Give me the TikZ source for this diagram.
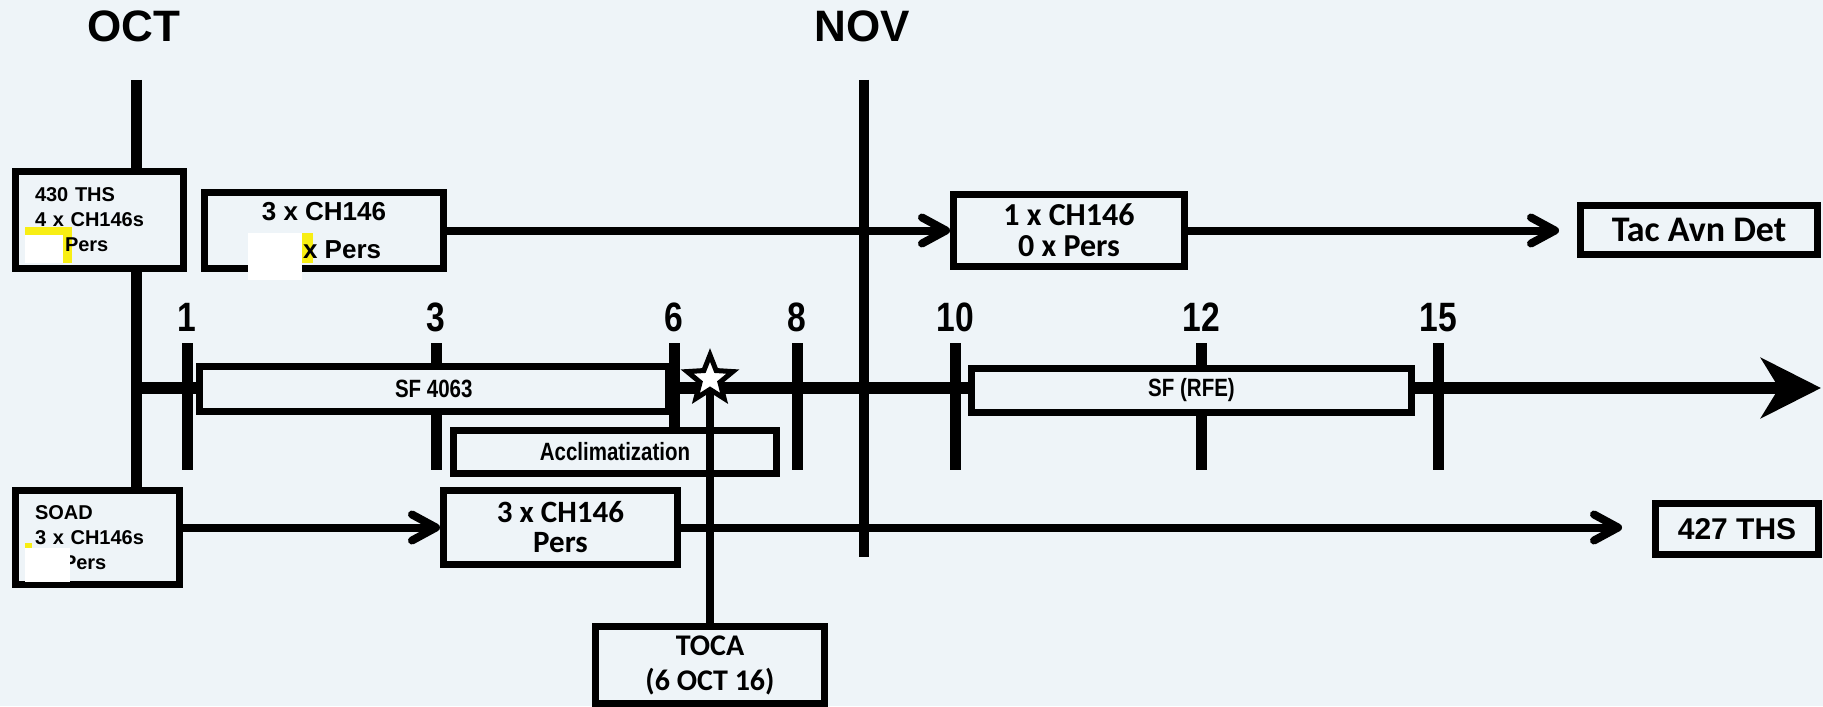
\documentclass[tikz,border=0pt]{standalone}
\usepackage{fontspec}
\setmainfont{Liberation Sans}
\newfontfamily\calib{Carlito}
\newfontfamily\narrowf{Liberation Sans}[FakeStretch=0.82]
\usetikzlibrary{arrows.meta,shapes.geometric}
\definecolor{bg}{RGB}{238,244,248}
\definecolor{hl}{RGB}{248,238,20}
\begin{document}
\begin{tikzpicture}[x=0.5pt,y=-0.5pt,
  box/.style={draw=black,line width=3.5pt,fill=bg,inner sep=0pt,rectangle},
  openbox/.style={draw=black,line width=3.5pt,inner sep=0pt,rectangle},
  arr/.style={line width=4pt,-{Straight Barb[length=12pt,width=13pt,round]}},
  tickl/.style={line width=5.5pt},
  num/.style={font=\narrowf\bfseries\fontsize{20.5}{24}\selectfont,anchor=base,inner sep=0pt},
  month/.style={font=\bfseries\fontsize{22}{24}\selectfont,anchor=base,inner sep=0pt},
  smalltxt/.style={font=\bfseries\fontsize{10}{12.5}\selectfont},
  narrowtxt/.style={font=\narrowf\bfseries\fontsize{12.5}{14}\selectfont}]
\useasboundingbox (0,0) rectangle (1823,706);
\clip (0,0) rectangle (1823,706);
\fill[bg] (0,0) rectangle (1823,706);

% month labels
\node[month] (oct) at (133.5,42) {OCT};
\node[month] (nov) at (862,42) {NOV};
\coordinate (octtop) at (136,80);
\coordinate (novtop) at (864,80);
\coordinate (novbot) at (864,557);

% box nodes (positions)
\path (99.5,220) node[openbox,minimum width=84pt,minimum height=48.5pt] (b430) {};
\path (97.5,537.5) node[openbox,minimum width=82pt,minimum height=47pt] (soad) {};

% vertical month lines
\draw[line width=5.5pt] (octtop) -- (octtop |- b430.north);
\draw[line width=5.5pt] (b430.south -| octtop) -- (soad.north -| octtop);
\draw[line width=5pt] (novtop) -- (novbot);

% time axis
\coordinate (axs) at (136,388);
\coordinate (axe) at (1821,388);
\draw[line width=5.8pt,-{Stealth[length=30pt,width=30pt,inset=9pt]}] (axs) -- (axe);
\foreach \x/\lab/\bot in {187/1/470,436/3/470,674/6/427,797/8/470,955/10/470,1201/12/470,1438/15/470}{
  \draw[tickl] (\x,343) -- (\x,\bot);
  \node[num] (n\lab) at (\x,331) {\lab};
}

% highlight marks (under text)
\fill[hl] (25,227) rectangle (72,263);
\fill[white] (25,235) rectangle (63,263);
\fill[hl] (302,233) rectangle (313,263);
\fill[hl] (25,543) rectangle (32,557);

% boxes with text
\node[openbox,minimum width=84pt,minimum height=48.5pt,text width=64.5pt,align=left,smalltxt] (t430) at (b430.center)
  {430 THS\\4 x CH146s\\\hspace*{15pt}Pers};
\node[openbox,minimum width=82pt,minimum height=47pt,text width=62.5pt,align=left,smalltxt] (tsoad) at (soad.center)
  {SOAD\\3 x CH146s\\\hspace*{14pt}Pers};
\node[openbox,minimum width=119.5pt,minimum height=38pt,align=center,font=\bfseries\fontsize{13}{19}\selectfont] (top3) at (324,230.5)
  {3 x CH146\\\phantom{00 }x Pers};
\node[box,minimum width=115.5pt,minimum height=36pt,align=center,font=\calib\bfseries\fontsize{16}{15.5}\selectfont] (one) at (1069,230.5)
  {1 x CH146\\0 x Pers};
\node[box,minimum width=118.5pt,minimum height=24.5pt,font=\calib\bfseries\fontsize{18}{20}\selectfont] (tac) at (1699,230)
  {Tac Avn Det};
\node[box,minimum width=234.25pt,minimum height=22.5pt,narrowtxt] (sf4063) at (433.75,389) {SF 4063};
\node[box,minimum width=161.5pt,minimum height=21.5pt,narrowtxt] (accl) at (615,452) {Acclimatization};
\node[box,minimum width=220pt,minimum height=22pt,narrowtxt] (sfrfe) at (1191.5,390) {SF (RFE)};
\node[box,minimum width=117pt,minimum height=37pt,align=center,font=\calib\bfseries\fontsize{15.5}{15}\selectfont] (low3) at (560.5,527.5)
  {3 x CH146\\Pers};
\node[box,minimum width=81.5pt,minimum height=25.5pt,font=\bfseries\fontsize{15}{18}\selectfont] (b427) at (1737,529) {427 THS};
\node[box,minimum width=114.5pt,minimum height=38.5pt,align=center,font=\calib\bfseries\fontsize{15}{17.5}\selectfont] (toca) at (710,665)
  {TOCA\\(6 OCT 16)};

% redactions drawn over text and borders
\fill[white] (248,233) rectangle (302,280);
\fill[white] (25,548) rectangle (70,582);

% connectors
\draw[arr] (top3.east) -- (one.west);
\draw[arr,shorten >=9pt] (one.east) -- (tac.west |- one.east);
\draw[arr] (soad.east |- low3.west) -- (low3.west);
\draw[arr,shorten >=15pt] (low3.east) -- (b427.west |- low3.east);

% TOCA star
\coordinate (starc) at (710,379);
\draw[line width=4pt] (starc) -- (toca.north);
\node[star,star points=5,star point ratio=2.3,minimum size=24pt,inner sep=0pt,draw,fill=white,line width=2.5pt] (tocastar) at (starc) {};
\end{tikzpicture}
\end{document}
